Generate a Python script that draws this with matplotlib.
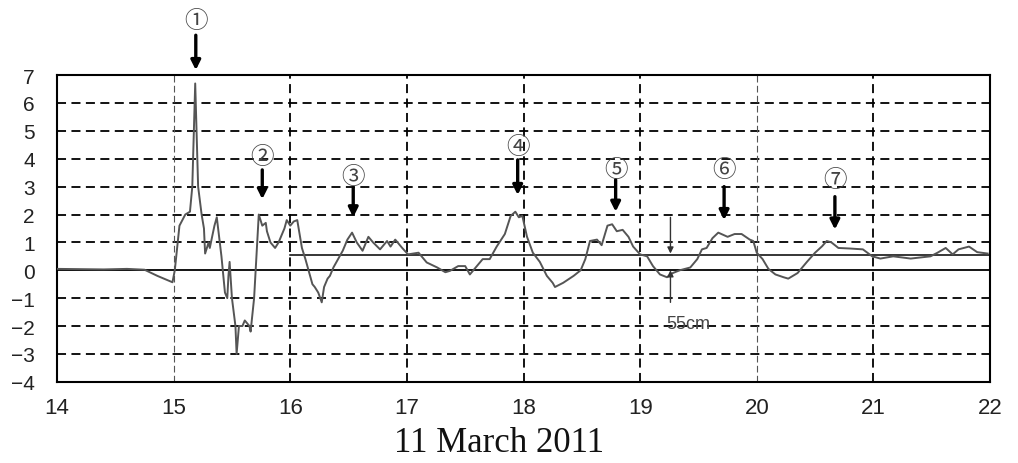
import matplotlib
matplotlib.use('Agg')
import matplotlib.pyplot as plt

# tide gauge record, hours on 11 March 2011 vs level (m)
hours = [14.00, 14.20, 14.40, 14.60, 14.75, 14.86, 14.99, 15.01, 15.05, 15.10,
         15.14, 15.16, 15.185, 15.21, 15.24, 15.26, 15.27, 15.30, 15.31, 15.35,
         15.37, 15.39, 15.41, 15.44, 15.46, 15.47, 15.48, 15.50, 15.53, 15.54,
         15.56, 15.59, 15.61, 15.65, 15.66, 15.69, 15.71, 15.73, 15.76, 15.79,
         15.80, 15.83, 15.87, 15.90, 15.95, 15.97, 16.00, 16.03, 16.06, 16.10,
         16.13, 16.15, 16.19, 16.21, 16.24, 16.27, 16.29, 16.32, 16.34, 16.37,
         16.41, 16.45, 16.49, 16.53, 16.57, 16.62, 16.67, 16.71, 16.77, 16.83,
         16.86, 16.90, 16.96, 17.01, 17.10, 17.17, 17.26, 17.33, 17.37, 17.44,
         17.50, 17.54, 17.60, 17.65, 17.71, 17.77, 17.84, 17.89, 17.93, 17.96,
         17.99, 18.03, 18.08, 18.14, 18.20, 18.25, 18.27, 18.34, 18.43, 18.49,
         18.53, 18.57, 18.63, 18.67, 18.72, 18.76, 18.80, 18.85, 18.90, 18.94,
         19.00, 19.06, 19.11, 19.17, 19.23, 19.28, 19.34, 19.43, 19.49, 19.53,
         19.57, 19.62, 19.67, 19.75, 19.81, 19.87, 19.94, 19.97, 20.00, 20.05,
         20.10, 20.16, 20.23, 20.27, 20.35, 20.43, 20.50, 20.56, 20.60, 20.64,
         20.70, 20.80, 20.91, 20.99, 21.06, 21.17, 21.32, 21.49, 21.55, 21.62,
         21.68, 21.73, 21.82, 21.89, 21.98]
level = [0.05, 0.04, 0.03, 0.05, 0.02, -0.2, -0.43, 0.0, 1.6, 2.0,
         2.1, 3.0, 6.7, 3.0, 2.0, 1.5, 0.6, 1.0, 0.8, 1.6,
         1.9, 1.2, 0.5, -0.8, -1.0, -0.2, 0.3, -1.0, -2.0, -3.0,
         -2.0, -2.0, -1.8, -2.0, -2.2, -1.0, 0.5, 2.0, 1.6, 1.7,
         1.4, 1.0, 0.8, 1.0, 1.5, 1.8, 1.6, 1.75, 1.8, 0.8,
         0.4, 0.1, -0.5, -0.6, -0.8, -1.15, -0.6, -0.3, -0.2, 0.1,
         0.4, 0.7, 1.1, 1.35, 1.0, 0.7, 1.2, 1.0, 0.75, 1.05,
         0.85, 1.1, 0.8, 0.57, 0.63, 0.28, 0.1, -0.07, -0.02, 0.15,
         0.15, -0.15, 0.15, 0.4, 0.4, 0.85, 1.3, 1.95, 2.1, 1.9,
         1.95, 1.2, 0.63, 0.3, -0.2, -0.45, -0.6, -0.45, -0.2, 0.0,
         0.4, 1.05, 1.1, 0.9, 1.6, 1.65, 1.4, 1.45, 1.2, 0.85,
         0.57, 0.5, 0.15, -0.15, -0.25, -0.1, 0.0, 0.1, 0.4, 0.75,
         0.8, 1.15, 1.35, 1.2, 1.3, 1.3, 1.1, 1.05, 0.63, 0.4,
         0.05, -0.15, -0.25, -0.3, -0.1, 0.3, 0.63, 0.86, 1.05, 1.0,
         0.8, 0.78, 0.75, 0.5, 0.42, 0.5, 0.42, 0.5, 0.63, 0.8,
         0.57, 0.75, 0.85, 0.65, 0.6]

x_ticks = [14, 15, 16, 17, 18, 19, 20, 21, 22]
y_ticks = [-4, -3, -2, -1, 0, 1, 2, 3, 4, 5, 6, 7]
ref_level = 0.55

# wave markers: label, x, label y, arrow start y, arrow tip y
wave_labels = ['①', '②', '③', '④', '⑤', '⑥', '⑦']
wave_x = [15.19, 15.76, 16.54, 17.95, 18.79, 19.72, 20.67]
wave_label_y = [8.96, 4.07, 3.36, 4.43, 3.6, 3.6, 3.25]
wave_arrow_top = [8.43, 3.6, 2.96, 3.96, 3.25, 3.0, 2.64]
wave_arrow_tip = [7.18, 2.55, 1.9, 2.7, 2.1, 1.8, 1.46]

fig = plt.figure(figsize=(10.18, 4.64), dpi=100)
ax = fig.add_axes([0.056, 0.175, 0.9165, 0.661])

# grid
for y in y_ticks[1:-1]:
    if y == 0:
        ax.axhline(0, color='black', lw=1.3, zorder=2)
    else:
        ax.axhline(y, color='black', lw=1.3, ls=(0, (5, 3)), zorder=1)
for x in x_ticks[1:-1]:
    if x in (15, 20):
        ax.axvline(x, color='#555555', lw=0.8, ls=(0, (6, 3)), zorder=1)
    else:
        ax.axvline(x, color='black', lw=1.3, ls=(0, (5, 3)), zorder=1)
ax.plot([16, 22], [ref_level, ref_level], color='black', lw=1.1, zorder=2)

ax.plot(hours, level, color='#555555', lw=1.4, zorder=3)

ax.set_xlim(14, 22)
ax.set_ylim(-4, 7)
ax.set_xticks(x_ticks)
ax.set_yticks(y_ticks)
ax.tick_params(axis='x', length=0, pad=11, labelsize=16)
ax.tick_params(axis='y', length=0, pad=16, labelsize=15)
for lab in ax.get_xticklabels() + ax.get_yticklabels():
    lab.set_fontfamily('Liberation Sans')
    lab.set_color('#222222')
for sp in ax.spines.values():
    sp.set_linewidth(1.5)

for i in range(len(wave_labels)):
    ax.annotate('', xy=(wave_x[i], wave_arrow_tip[i]), xytext=(wave_x[i], wave_arrow_top[i]),
                arrowprops=dict(arrowstyle='-|>', color='black', lw=2.4, mutation_scale=14,
                                shrinkA=0, shrinkB=0),
                annotation_clip=False, zorder=5)
    ax.text(wave_x[i], wave_label_y[i], wave_labels[i], ha='center', va='center',
            fontsize=17, color='#444444', family=['Noto Sans CJK JP', 'DejaVu Sans'],
            clip_on=False, zorder=5)

# 55 cm offset marker
ax.annotate('', xy=(19.26, ref_level + 0.05), xytext=(19.26, 1.9),
            arrowprops=dict(arrowstyle='-|>', color='#333333', lw=1.0, mutation_scale=9,
                            shrinkA=0, shrinkB=0), zorder=5)
ax.annotate('', xy=(19.26, 0.0), xytext=(19.26, -1.15),
            arrowprops=dict(arrowstyle='-|>', color='#333333', lw=1.0, mutation_scale=9,
                            shrinkA=0, shrinkB=0), zorder=5)
ax.text(19.41, -1.9, '55cm', ha='center', va='center', fontsize=13,
        color='#444444', family='Liberation Sans', zorder=5)

fig.text(0.49, 0.026, '11 March 2011', ha='center', va='baseline', fontsize=25,
         family='Liberation Serif', color='#111111')

fig.savefig('out.png', dpi=100)
